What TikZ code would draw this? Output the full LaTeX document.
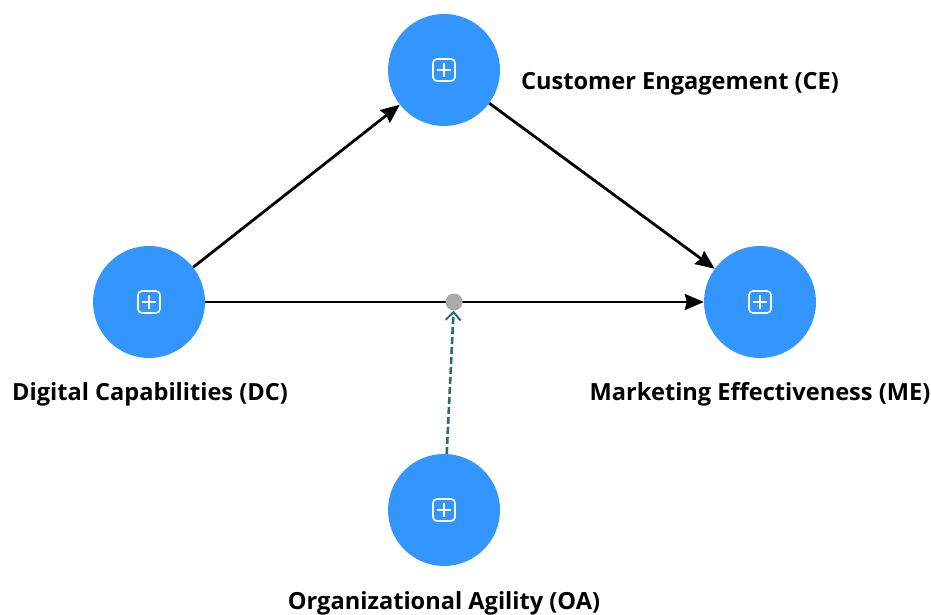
\documentclass[tikz,border=0pt]{standalone}
\usepackage{fontspec}
\setmainfont{Open Sans}
\usetikzlibrary{arrows.meta,calc}
\definecolor{nodeblue}{RGB}{51,150,255}
\definecolor{modteal}{RGB}{45,108,108}
\definecolor{modgrey}{RGB}{170,170,170}
\tikzset{
  construct/.style={circle, fill=nodeblue, minimum size=112pt, inner sep=0pt},
  lbl/.style={font=\bfseries\fontsize{23.6}{27}\selectfont, text=black, inner sep=0pt},
  path/.style={line width=2.8pt, draw=black, -{Stealth[length=19pt,width=16pt,inset=2pt]}},
  modpath/.style={line width=2.6pt, draw=modteal, dash pattern=on 7pt off 3pt,
    -{Straight Barb[length=8pt,width=15pt,line width=2pt]}},
  modpoint/.style={circle, fill=modgrey, minimum size=17pt, inner sep=0pt},
}
% expand/collapse glyph drawn inside each construct
\newcommand{\plusglyph}[1]{%
  \draw[white, line width=1.6pt, rounded corners=4pt]
    ($(#1)+(-11,-11)$) rectangle ($(#1)+(11,11)$);
  \draw[white, line width=1.6pt] ($(#1)+(-7,0)$) -- ($(#1)+(7,0)$)
    ($(#1)+(0,-7)$) -- ($(#1)+(0,7)$);}
\begin{document}
\begin{tikzpicture}[x=1pt,y=-1pt]
\useasboundingbox (0,0) rectangle (931,615);
\fill[white] (0,0) rectangle (931,615);

\node[construct] (ce) at (444,70) {};
\node[construct] (dc) at (149,302) {};
\node[construct] (me) at (760,302) {};
\node[construct] (oa) at (444,510) {};

\foreach \n in {ce,dc,me,oa} {\plusglyph{\n}}

\node[lbl] (celbl) at (680,84) {Customer Engagement (CE)};
\node[lbl] (dclbl) at (150,394) {Digital Capabilities (DC)};
\node[lbl] (melbl) at (760,394) {Marketing Effectiveness (ME)};
\node[lbl] (oalbl) at (444,603) {Organizational Agility (OA)};

\draw[path] (dc) -- (ce);
\draw[path] (ce) -- (me);
\draw[path] (dc) -- (me);

\node[modpoint] (mod) at (454,302) {};
\draw[modpath] (oa) -- (mod);
\end{tikzpicture}
\end{document}
